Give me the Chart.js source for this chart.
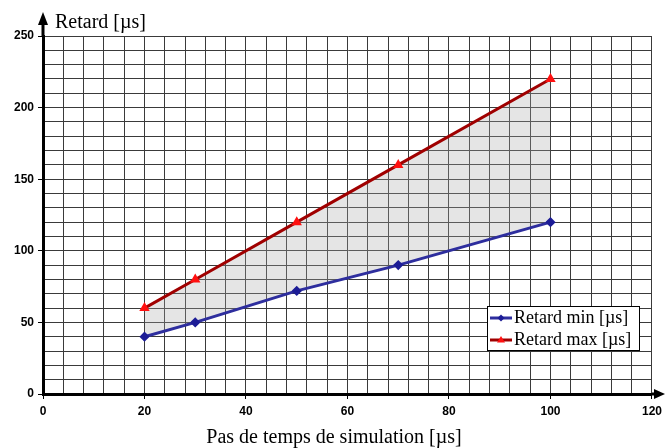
<!DOCTYPE html>
<html>
<head>
<meta charset="utf-8">
<script src="https://cdn.jsdelivr.net/npm/chart.js@4"></script>
<style>
  html, body { margin: 0; padding: 0; background: #fff; }
  #wrap { width: 667px; height: 448px; }
</style>
</head>
<body>
<div id="wrap"><canvas id="retard"></canvas></div>
<script>
const pasTemps = [20, 30, 50, 70, 100];
const retardMin = [40, 50, 72, 90, 120];
const retardMax = [60, 80, 120, 160, 220];
const seriesLabels = ['Retard min [\u00b5s]', 'Retard max [\u00b5s]'];
const xTitle = 'Pas de temps de simulation [\u00b5s]';
const yTitle = 'Retard [\u00b5s]';

const serif = "'Liberation Serif', 'Times New Roman', serif";

const toPoints = (xs, ys) => xs.map((x, i) => ({x: x, y: ys[i]}));

// arrows, axis titles and the boxed legend
const decor = {
  id: 'decor',
  afterDraw(chart) {
    const ctx = chart.ctx;
    const a = chart.chartArea;
    ctx.save();
    ctx.fillStyle = '#000';
    ctx.strokeStyle = '#000';
    ctx.lineWidth = 3;
    // y arrow
    ctx.beginPath();
    ctx.moveTo(a.left, a.top);
    ctx.lineTo(a.left, a.top - 14);
    ctx.stroke();
    ctx.beginPath();
    ctx.moveTo(a.left, a.top - 24);
    ctx.lineTo(a.left - 5, a.top - 11);
    ctx.lineTo(a.left + 5, a.top - 11);
    ctx.closePath();
    ctx.fill();
    // x arrow
    ctx.beginPath();
    ctx.moveTo(a.right, a.bottom);
    ctx.lineTo(a.right + 4, a.bottom);
    ctx.stroke();
    ctx.beginPath();
    ctx.moveTo(a.right + 13, a.bottom);
    ctx.lineTo(a.right + 2, a.bottom - 5);
    ctx.lineTo(a.right + 2, a.bottom + 5);
    ctx.closePath();
    ctx.fill();

    // titles
    ctx.font = '20px ' + serif;
    ctx.textBaseline = 'alphabetic';
    ctx.textAlign = 'left';
    ctx.fillText(yTitle, a.left + 12, 28);
    ctx.textAlign = 'center';
    ctx.fillText(xTitle, 334, 443);

    // legend box
    const bx = 487, by = 306, bw = 152, bh = 44;
    ctx.fillStyle = '#fff';
    ctx.fillRect(bx, by, bw, bh);
    ctx.lineWidth = 1;
    ctx.strokeRect(bx + 0.5, by + 0.5, bw, bh);
    ctx.font = '18px ' + serif;
    ctx.textAlign = 'left';
    ctx.textBaseline = 'middle';
    chart.data.datasets.forEach((ds, i) => {
      const cy = by + 12 + i * 22;
      ctx.strokeStyle = ds.borderColor;
      ctx.lineWidth = 3;
      ctx.beginPath();
      ctx.moveTo(bx + 3, cy);
      ctx.lineTo(bx + 25, cy);
      ctx.stroke();
      ctx.fillStyle = ds.pointBackgroundColor;
      ctx.beginPath();
      if (i === 0) {
        ctx.moveTo(bx + 14, cy - 3.5);
        ctx.lineTo(bx + 17.5, cy);
        ctx.lineTo(bx + 14, cy + 3.5);
        ctx.lineTo(bx + 10.5, cy);
      } else {
        ctx.moveTo(bx + 14, cy - 4);
        ctx.lineTo(bx + 18, cy + 2.5);
        ctx.lineTo(bx + 10, cy + 2.5);
      }
      ctx.closePath();
      ctx.fill();
      ctx.fillStyle = '#000';
      ctx.fillText(ds.label, bx + 27, cy);
    });
    ctx.restore();
  }
};

const majorOnly = (step) => (ctx) => (ctx.tick && ctx.tick.value % step === 0) ? '#000' : 'rgba(0,0,0,0)';

const retardData = {
  datasets: [{
    label: seriesLabels[0],
    data: toPoints(pasTemps, retardMin),
    borderColor: '#2e2e9e',
    backgroundColor: '#2e2e9e',
    pointBackgroundColor: '#1c1c96',
    pointBorderColor: '#1c1c96',
    pointStyle: 'rectRot',
    pointRadius: 3,
    borderWidth: 3,
    fill: false
  }, {
    label: seriesLabels[1],
    data: toPoints(pasTemps, retardMax),
    borderColor: '#a00000',
    backgroundColor: 'rgba(170,170,170,0.3)',
    pointBackgroundColor: '#ff1010',
    pointBorderColor: '#ff1010',
    pointStyle: 'triangle',
    pointRadius: 3,
    borderWidth: 3,
    fill: '-1'
  }]
};

const retardConfig = {
  type: 'line',
  data: retardData,
  options: {
    responsive: true,
    maintainAspectRatio: false,
    animation: false,
    layout: {
      padding: { top: 36, right: 12, left: 0, bottom: 0 }
    },
    plugins: {
      legend: { display: false },
      tooltip: { enabled: false }
    },
    scales: {
      x: {
        type: 'linear',
        min: 0,
        max: 120,
        ticks: {
          stepSize: 4,
          autoSkip: false,
          maxRotation: 0,
          padding: 5,
          color: '#000',
          font: { family: "'Liberation Sans', Arial, sans-serif", size: 12, weight: 'bold' },
          callback: (v) => v % 20 === 0 ? v : ''
        },
        grid: {
          color: '#3a3a3a',
          lineWidth: 1,
          tickLength: 5,
          tickColor: majorOnly(20)
        },
        border: { color: '#000', width: 3 },
        afterFit: (scale) => { scale.height = 54; }
      },
      y: {
        min: 0,
        max: 250,
        ticks: {
          stepSize: 10,
          autoSkip: false,
          padding: 4,
          color: '#000',
          font: { family: "'Liberation Sans', Arial, sans-serif", size: 12, weight: 'bold' },
          callback: (v) => v % 50 === 0 ? v : ''
        },
        grid: {
          color: '#3a3a3a',
          lineWidth: 1,
          tickLength: 5,
          tickColor: majorOnly(50)
        },
        border: { color: '#000', width: 3 },
        afterFit: (scale) => { scale.width = 43; }
      }
    }
  },
  plugins: [decor]
};

const retardChart = new Chart(document.getElementById('retard'), retardConfig);
</script>
</body>
</html>
